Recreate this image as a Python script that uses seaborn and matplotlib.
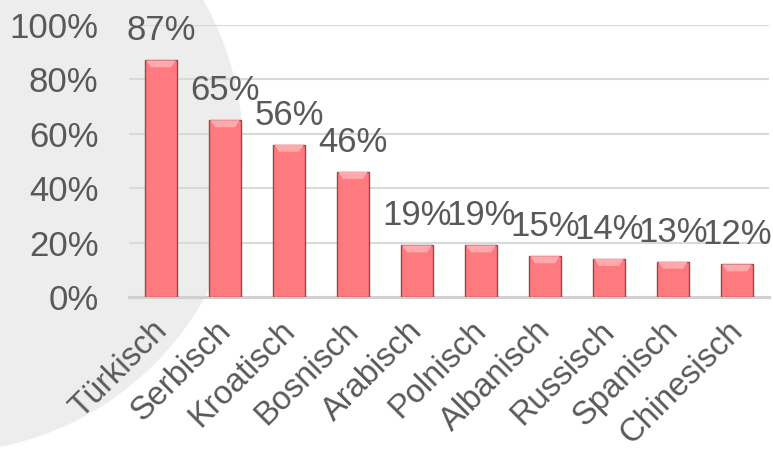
import matplotlib
matplotlib.use("Agg")
import matplotlib.pyplot as plt
import matplotlib.transforms as mtransforms
from matplotlib.patches import Circle, Polygon
import seaborn as sns
import pandas as pd

# Share of respondents per language
languages = ["Türkisch", "Serbisch", "Kroatisch", "Bosnisch", "Arabisch",
             "Polnisch", "Albanisch", "Russisch", "Spanisch", "Chinesisch"]
shares = [87, 65, 56, 46, 19, 19, 15, 14, 13, 12]
y_ticks = [0, 20, 40, 60, 80, 100]
y_tick_labels = ["0%", "20%", "40%", "60%", "80%", "100%"]

TEXT = "#595959"
BAR = "#FF7A7E"
BAR_EDGE = "#9C4548"
BEVEL = "#FFA9AC"
GRID = "#D9D9D9"

sns.set_theme(style="white")
plt.rcParams["font.family"] = ["Liberation Sans", "DejaVu Sans"]

df = pd.DataFrame({"Sprache": languages, "Anteil": shares})

fig = plt.figure(figsize=(7.73, 4.55), dpi=100, facecolor="white")

# Decorative light-grey disc behind the left part of the chart
disc = Circle((-0.60, 3.05), 3.03, transform=fig.dpi_scale_trans,
              facecolor="#EDEDED", edgecolor="none", zorder=-5)
fig.patches.append(disc)

ax = fig.add_axes([129 / 773, (455 - 297) / 455, 640 / 773, 272 / 455])
ax.set_facecolor("none")
ax.set_zorder(1)

sns.barplot(data=df, x="Sprache", y="Anteil", color=BAR, width=0.5,
            saturation=1, edgecolor=BAR_EDGE, linewidth=1.0, ax=ax, zorder=3)

ax.set_xlim(-0.5, len(languages) - 0.5)
ax.set_ylim(0, 100)

# Bevelled top on every bar, derived from the bar geometry
px_x = 1.0 / 64
px_y = 100.0 / 272
for bar in ax.patches:
    x0 = bar.get_x()
    w = bar.get_width()
    top = bar.get_height()
    inset = 6 * px_x
    drop = 7 * px_y
    bevel = Polygon([(x0 + 1.2 * px_x, top), (x0 + w - 1.2 * px_x, top),
                     (x0 + w - inset, top - drop), (x0 + inset, top - drop)],
                    closed=True, facecolor=BEVEL, edgecolor="none", zorder=4)
    ax.add_patch(bevel)

# Value labels above the bars
for i, v in enumerate(shares):
    ax.annotate(f"{v}%", xy=(i, v), xytext=(0, 14.5), textcoords="offset points",
                ha="center", va="baseline", fontsize=25, color=TEXT, zorder=5)

# Gridlines and axis line
ax.set_yticks(y_ticks)
ax.set_yticklabels(y_tick_labels)
ax.yaxis.grid(True, color=GRID, linewidth=1.5)
ax.set_axisbelow(True)
for side in ["left", "right", "top"]:
    ax.spines[side].set_visible(False)
ax.spines["bottom"].set_color("#D0D0D0")
ax.spines["bottom"].set_linewidth(2.2)
ax.spines["bottom"].set_zorder(2)

ax.tick_params(axis="y", length=0, pad=22, labelsize=25, labelcolor=TEXT)
ax.tick_params(axis="x", length=0, pad=21, labelsize=23.5, labelcolor=TEXT)
ax.set_xlabel("")
ax.set_ylabel("")

shift = mtransforms.ScaledTranslation(0.01, 0, fig.dpi_scale_trans)
for lab in ax.get_xticklabels():
    lab.set_rotation(45)
    lab.set_ha("right")
    lab.set_va("center")
    lab.set_rotation_mode("anchor")
    lab.set_transform(lab.get_transform() + shift)

fig.savefig("out.png", dpi=100, facecolor="white")
